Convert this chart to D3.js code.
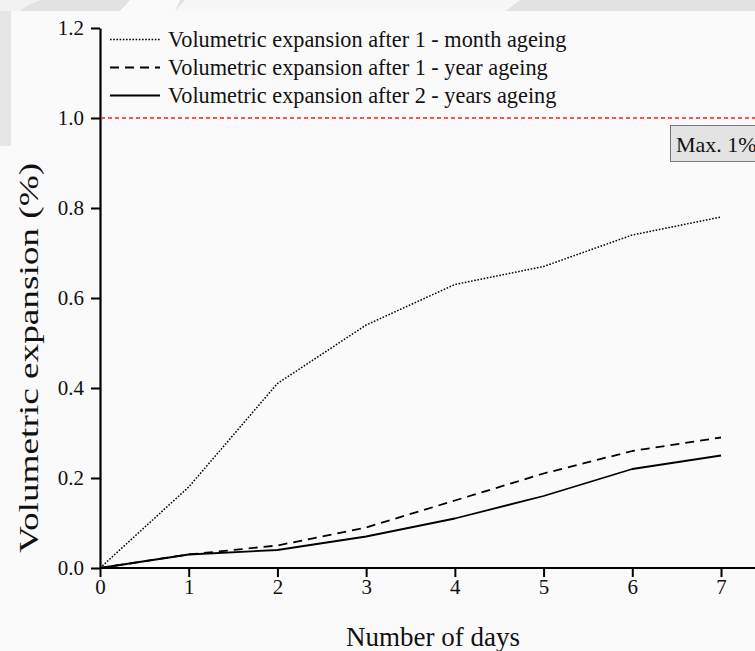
<!DOCTYPE html>
<html>
<head>
<meta charset="utf-8">
<script src="https://cdn.jsdelivr.net/npm/d3@7"></script>
<style>
  html, body { margin: 0; padding: 0; background: #fafafa; }
  svg { display: block; }
</style>
</head>
<body>
<svg id="chart" width="755" height="651"></svg>
<script>
// Measurement days and volumetric expansion (%) per ageing period
const days = [0, 1, 2, 3, 4, 5, 6, 7];
const expansionMonth = [0, 0.18, 0.41, 0.54, 0.63, 0.67, 0.74, 0.78];
const expansionYear1 = [0, 0.03, 0.05, 0.09, 0.15, 0.21, 0.26, 0.29];
const expansionYear2 = [0, 0.03, 0.04, 0.07, 0.11, 0.16, 0.22, 0.25];
const seriesNames = [
  "Volumetric expansion after 1 - month ageing",
  "Volumetric expansion after 1 - year ageing",
  "Volumetric expansion after 2 - years ageing"
];
const xTicks = [0, 1, 2, 3, 4, 5, 6, 7];
const yTicks = [0.0, 0.2, 0.4, 0.6, 0.8, 1.0, 1.2];
const limitValue = 1.0;
const limitLabel = "Max. 1%";

const SERIF = '"Liberation Serif", "Times New Roman", serif';
const svg = d3.select("#chart").attr("font-family", SERIF);
const W = 755, H = 651;

// light grey band across the top edge and along the upper left edge
svg.append("rect").attr("x", 0).attr("y", 0).attr("width", W).attr("height", 11).attr("fill", "#e2e2e2");
svg.append("path").attr("d", "M0,0 L40,0 Q25,6 20,11 L0,11 Z").attr("fill", "#f2f2f2");
svg.append("path").attr("d", "M130,0 L180,0 L175,11 L120,11 Z").attr("fill", "#fafafa");
svg.append("path").attr("d", "M185,0 L520,0 Q510,8 505,11 L175,11 Z").attr("fill", "#f7f7f7");
svg.append("rect").attr("x", 0).attr("y", 11).attr("width", 11).attr("height", 135).attr("fill", "#e6e6e6");

const x = d3.scaleLinear().domain([0, 7]).range([100, 721]);
const y = d3.scaleLinear().domain([0, 1.2]).range([568, 28]);

// axes
const xAxis = d3.axisBottom(x).tickValues(xTicks).tickFormat(d3.format("d")).tickSize(9).tickSizeOuter(0);
const gx = svg.append("g").attr("transform", `translate(0,${y(0)})`).call(xAxis)
  .attr("font-family", SERIF).attr("font-size", 21);
gx.select(".domain").remove();
gx.append("line").attr("x1", x(0)).attr("x2", W).attr("y1", 0).attr("y2", 0)
  .attr("stroke", "#000").attr("stroke-width", 2.2);
gx.selectAll(".tick line").attr("stroke", "#000").attr("stroke-width", 2);
gx.selectAll(".tick text").attr("y", 11).attr("dy", "0.71em").attr("fill", "#111");

const yAxis = d3.axisLeft(y).tickValues(yTicks).tickFormat(d3.format(".1f")).tickSize(9).tickSizeOuter(0);
const gy = svg.append("g").attr("transform", `translate(${x(0)},0)`).call(yAxis)
  .attr("font-family", SERIF).attr("font-size", 21);
gy.select(".domain").attr("stroke", "#000").attr("stroke-width", 2.2);
gy.selectAll(".tick line").attr("stroke", "#000").attr("stroke-width", 2);
gy.selectAll(".tick text").attr("x", -16).attr("fill", "#111");

// axis titles
svg.append("text").attr("x", 433).attr("y", 646).attr("text-anchor", "middle")
  .attr("font-size", 27).attr("fill", "#111").text("Number of days");
svg.append("text").attr("transform", "translate(38,358) rotate(-90) scale(1.38,1)").attr("text-anchor", "middle")
  .attr("font-size", 27).attr("fill", "#111").text("Volumetric expansion (%)");

// limit line
svg.append("line").attr("x1", x(0) + 1).attr("x2", W).attr("y1", y(limitValue)).attr("y2", y(limitValue))
  .attr("stroke", "#ff1a1a").attr("stroke-width", 1.6).attr("stroke-dasharray", "4,3");
svg.append("rect").attr("x", 670.5).attr("y", 125.5).attr("width", 100).attr("height", 36)
  .attr("fill", "#e3e3e3").attr("stroke", "#777").attr("stroke-width", 1);
svg.append("text").attr("x", 676).attr("y", 152).attr("font-size", 22).attr("fill", "#111").text(limitLabel);

// series lines
const styles = [
  { dash: "1.6,1.6", width: 1.5 },
  { dash: "9,6", width: 1.8 },
  { dash: null, width: 1.8 }
];
const series = [expansionMonth, expansionYear1, expansionYear2];
const line = d3.line().x((d, i) => x(days[i])).y(d => y(d));

series.forEach((vals, k) => {
  svg.append("path").datum(vals).attr("d", line)
    .attr("fill", "none").attr("stroke", "#000").attr("stroke-width", styles[k].width)
    .attr("stroke-linejoin", "round")
    .attr("stroke-dasharray", styles[k].dash);
});

// legend
seriesNames.forEach((name, k) => {
  const ly = 39.5 + k * 28;
  svg.append("line").attr("x1", 110).attr("x2", 160).attr("y1", ly).attr("y2", ly)
    .attr("stroke", "#000").attr("stroke-width", styles[k].width).attr("stroke-dasharray", styles[k].dash);
  svg.append("text").attr("x", 168).attr("y", ly + 7.5).attr("font-size", 22.3).attr("fill", "#111").text(name);
});
</script>
</body>
</html>
